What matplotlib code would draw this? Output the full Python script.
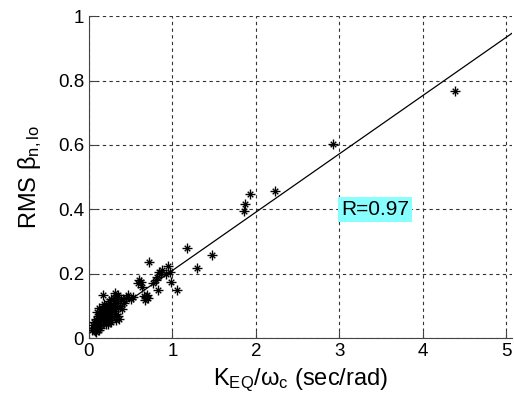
import matplotlib
matplotlib.use("Agg")
import matplotlib.pyplot as plt
import numpy as np

plt.rcParams["font.family"] = ["Liberation Sans", "DejaVu Sans"]
plt.rcParams["mathtext.fontset"] = "custom"
plt.rcParams["mathtext.rm"] = "Liberation Sans"
plt.rcParams["mathtext.it"] = "Liberation Sans"

# ---- data ---------------------------------------------------------------
x_cluster = [0.04, 0.06, 0.07, 0.09, 0.05, 0.08, 0.10, 0.11, 0.12, 0.13,
             0.14, 0.15, 0.16, 0.17, 0.18, 0.19, 0.20, 0.21, 0.22, 0.23,
             0.24, 0.25, 0.26, 0.27, 0.28, 0.29, 0.30, 0.31, 0.32, 0.33,
             0.34, 0.35, 0.36, 0.37, 0.38, 0.40, 0.42, 0.44, 0.13, 0.11,
             0.16, 0.18, 0.21, 0.24, 0.27, 0.30, 0.17, 0.31, 0.35, 0.47,
             0.59, 0.08, 0.10, 0.14, 0.19, 0.23, 0.28, 0.33, 0.06, 0.12,
             0.15, 0.20, 0.25, 0.12, 0.09]
y_cluster = [0.025, 0.030, 0.022, 0.035, 0.040, 0.045, 0.050, 0.040, 0.060, 0.030,
             0.055, 0.070, 0.065, 0.080, 0.050, 0.090, 0.075, 0.085, 0.060, 0.095,
             0.080, 0.100, 0.070, 0.050, 0.090, 0.105, 0.085, 0.110, 0.055, 0.095,
             0.115, 0.070, 0.060, 0.100, 0.120, 0.090, 0.110, 0.125, 0.075, 0.070,
             0.095, 0.105, 0.100, 0.115, 0.120, 0.125, 0.133, 0.139, 0.135, 0.133,
             0.170, 0.060, 0.080, 0.085, 0.065, 0.045, 0.065, 0.075, 0.050, 0.095,
             0.040, 0.045, 0.055, 0.025, 0.020]

x_mid = [0.51, 0.53, 0.41, 0.62, 0.64, 0.60, 0.67, 0.69, 0.71, 0.70, 0.66, 0.72,
         0.77, 0.80, 0.82, 0.83, 0.84, 0.86, 0.88, 0.95, 0.97, 0.98, 1.05, 0.92]
y_mid = [0.123, 0.128, 0.123, 0.174, 0.160, 0.180, 0.118, 0.128, 0.124, 0.135, 0.130, 0.235,
         0.170, 0.180, 0.190, 0.149, 0.205, 0.200, 0.210, 0.224, 0.206, 0.175, 0.149, 0.200]

x_high = [1.18, 1.30, 1.47, 1.86, 1.87, 1.93, 2.23, 2.93, 4.39]
y_high = [0.279, 0.218, 0.258, 0.395, 0.416, 0.449, 0.457, 0.602, 0.768]

keq_over_wc = x_cluster + x_mid + x_high
rms_beta = y_cluster + y_mid + y_high

fit_slope = 0.181
fit_intercept = 0.029
fit_range = [0.03, 5.3]
r_value = 0.97

# ---- figure -------------------------------------------------------------
fig = plt.figure(figsize=(5.14, 4.03), dpi=100)
ax = fig.add_axes([0.173, 0.161, 0.823, 0.799])

ax.scatter(keq_over_wc, rms_beta, marker="+", s=42, color="black", linewidths=1.0, zorder=3)
ax.scatter(keq_over_wc, rms_beta, marker="x", s=16, color="black", linewidths=1.0, zorder=3)

xf = np.array(fit_range)
ax.plot(xf, fit_intercept + fit_slope * xf, color="black", linewidth=0.9, zorder=2)

ax.text(3.43, 0.40, "R=%.2f" % r_value, fontsize=15, ha="center", va="center",
        bbox=dict(boxstyle="square,pad=0.15", facecolor="#88FFFF", edgecolor="none"))

ax.set_xlim(0, 5.07)
ax.set_ylim(0, 1)
ax.set_xticks([0, 1, 2, 3, 4, 5])
ax.set_yticks([0, 0.2, 0.4, 0.6, 0.8, 1])
ax.set_yticklabels(["0", "0.2", "0.4", "0.6", "0.8", "1"])
ax.grid(True, color="#333333", linestyle=(0, (3, 3)), linewidth=0.8)
ax.set_axisbelow(True)

for side in ["top", "right"]:
    ax.spines[side].set_visible(False)
for side in ["left", "bottom"]:
    ax.spines[side].set_color("#444444")
ax.tick_params(direction="in", length=5, labelsize=13.5, colors="#444444", labelcolor="black")

ax.set_xlabel(r"$\mathrm{K_{EQ}/\omega_c}$ (sec/rad)", fontsize=17, labelpad=5)
ax.set_ylabel(r"RMS $\mathrm{\beta_{n,lo}}$", fontsize=17, labelpad=10)

fig.savefig("out.png", dpi=100)
